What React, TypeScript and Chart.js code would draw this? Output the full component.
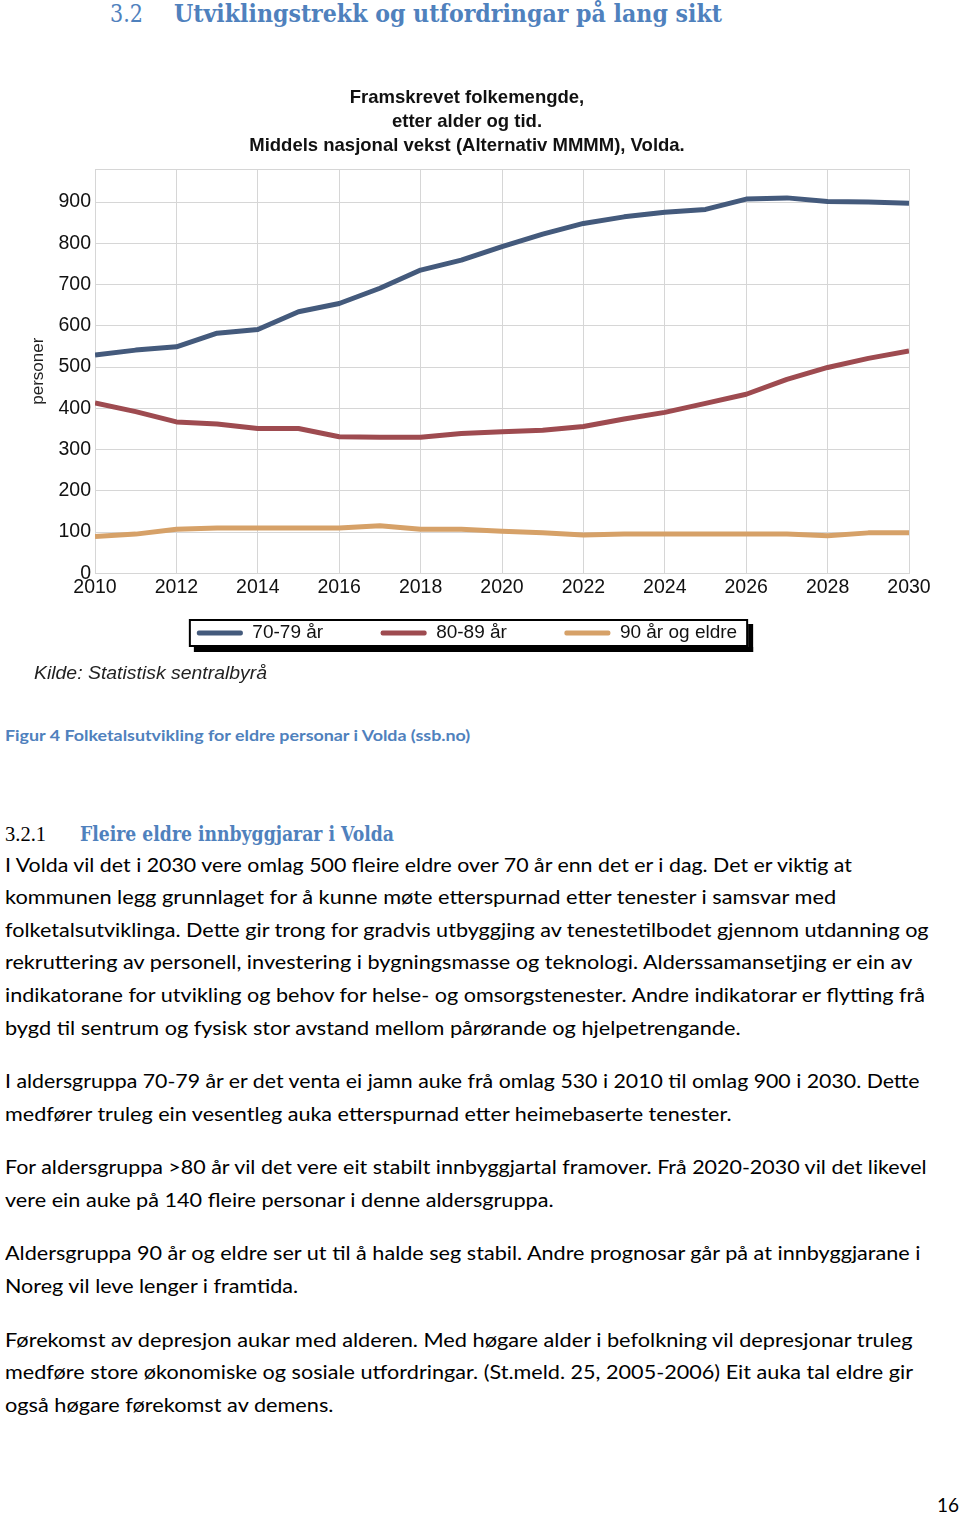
import React, { useEffect, useRef } from "react";
import { Chart, registerables } from "chart.js";

Chart.register(...registerables);

// ---------- chart data ----------
const years = [2010, 2011, 2012, 2013, 2014, 2015, 2016, 2017, 2018, 2019, 2020, 2021, 2022, 2023, 2024, 2025, 2026, 2027, 2028, 2029, 2030];
const series7079 = [529, 541, 549, 582, 591, 634, 654, 691, 735, 759, 792, 822, 848, 864, 875, 882, 907, 910, 901, 900, 897];
const series8089 = [413, 392, 367, 362, 351, 351, 331, 330, 330, 339, 343, 347, 356, 374, 390, 412, 434, 470, 499, 521, 539];
const series90 = [89, 95, 107, 110, 110, 110, 110, 115, 107, 107, 102, 98, 93, 95, 95, 95, 95, 95, 91, 98, 98];
const seriesLabels = ["70-79 år", "80-89 år", "90 år og eldre"];
const seriesColors = ["#445a7c", "#9e4b50", "#d6a168"];
const xTicks = [2010, 2012, 2014, 2016, 2018, 2020, 2022, 2024, 2026, 2028, 2030];
const yTicks = [0, 100, 200, 300, 400, 500, 600, 700, 800, 900];
const yMax = 980;
const chartTitle = ["Framskrevet folkemengde,", "etter alder og tid.", "Middels nasjonal vekst (Alternativ MMMM), Volda."];
const yAxisTitle = "personer";
const sourceText = "Kilde: Statistisk sentralbyrå";

// ---------- document text ----------
const headingNumber = "3.2";
const headingText = "Utviklingstrekk og utfordringar på lang sikt";
const captionText = "Figur 4 Folketalsutvikling for eldre personar i Volda (ssb.no)";
const subNumber = "3.2.1";
const subText = "Fleire eldre innbyggjarar i Volda";
const bodyLines = [
  "I Volda vil det i 2030 vere omlag 500 fleire eldre over 70 år enn det er i dag. Det er viktig at",
  "kommunen legg grunnlaget for å kunne møte etterspurnad etter tenester i samsvar med",
  "folketalsutviklinga. Dette gir trong for gradvis utbyggjing av tenestetilbodet gjennom utdanning og",
  "rekruttering av personell, investering i bygningsmasse og teknologi. Alderssamansetjing er ein av",
  "indikatorane for utvikling og behov for helse- og omsorgstenester. Andre indikatorar er flytting frå",
  "bygd til sentrum og fysisk stor avstand mellom pårørande og hjelpetrengande.",
  "I aldersgruppa 70-79 år er det venta ei jamn auke frå omlag 530 i 2010 til omlag 900 i 2030. Dette",
  "medfører truleg ein vesentleg auka etterspurnad etter heimebaserte tenester.",
  "For aldersgruppa >80 år vil det vere eit stabilt innbyggjartal framover. Frå 2020-2030 vil det likevel",
  "vere ein auke på 140 fleire personar i denne aldersgruppa.",
  "Aldersgruppa 90 år og eldre ser ut til å halde seg stabil. Andre prognosar går på at innbyggjarane i",
  "Noreg vil leve lenger i framtida.",
  "Førekomst av depresjon aukar med alderen. Med høgare alder i befolkning vil depresjonar truleg",
  "medføre store økonomiske og sosiale utfordringar. (St.meld. 25, 2005-2006) Eit auka tal eldre gir",
  "også høgare førekomst av demens.",
];
const bodyLineY = [865, 897, 930, 962, 995, 1028, 1081, 1114, 1167, 1200, 1253, 1286, 1340, 1372, 1405];
const bodyLineW = [851, 833, 925, 909, 923, 736, 916, 728, 924, 549, 918, 294, 910, 908, 329];
const pageNumber = "16";

// ---------- styling ----------
const BLUE = "#4f81bd";
const SERIF = '"DejaVu Serif", serif';
const TIMES = '"Liberation Serif", serif';
const BODY = 'Lato, "Noto Sans", sans-serif';
const ARIAL = '"Liberation Sans", Arial, sans-serif';
const GRID = "#d6d6d6";

let measureCtx: CanvasRenderingContext2D | null = null;
function textWidth(text: string, font: string): number {
  if (!measureCtx) measureCtx = document.createElement("canvas").getContext("2d");
  if (!measureCtx) return 0;
  measureCtx.font = font;
  return measureCtx.measureText(text).width;
}

type FitProps = {
  text: string;
  x: number;
  y: number;
  w?: number;
  family: string;
  size: number;
  weight?: string;
  italic?: boolean;
  color?: string;
};

function fontString(family: string, size: number, weight = "normal", italic = false) {
  return `${italic ? "italic " : ""}${weight} ${size}px ${family}`;
}

function Fit({ text, x, y, w, family, size, weight = "normal", italic = false, color = "#000" }: FitProps) {
  let sx = 1;
  if (w !== undefined) {
    const natural = textWidth(text, fontString(family, size, weight, italic));
    sx = natural > 0 ? w / natural : 1;
  }
  const lh = Math.round(size * 1.6);
  return (
    <div
      style={{
        position: "absolute",
        left: x,
        top: y - lh / 2,
        height: lh,
        fontFamily: family,
        fontSize: size,
        fontWeight: weight as any,
        fontStyle: italic ? "italic" : "normal",
        lineHeight: `${lh}px`,
        color,
        whiteSpace: "pre",
        transform: `scaleX(${sx})`,
        transformOrigin: "0 50%",
      }}
    >
      {text}
    </div>
  );
}

const legendFrame = {
  id: "legendFrame",
  afterDraw(chart: any) {
    const boxes = chart.legend && chart.legend.legendHitBoxes;
    if (!boxes || !boxes.length) return;
    const first = boxes[0];
    const last = boxes[boxes.length - 1];
    const cy = first.top + first.height / 2;
    const left = first.left - 8;
    const right = last.left + last.width + 11;
    const top = cy - 14;
    const bottom = cy + 14;
    const ctx = chart.ctx;
    ctx.save();
    ctx.fillStyle = "#000";
    ctx.fillRect(right, top + 5, 5, bottom - top);
    ctx.fillRect(left + 5, bottom, right - left, 5);
    ctx.strokeStyle = "#000";
    ctx.lineWidth = 2;
    ctx.strokeRect(left + 1, top + 1, right - left - 2, bottom - top - 2);
    ctx.restore();
  },
};

function ChartBox() {
  const ref = useRef<HTMLCanvasElement>(null);
  useEffect(() => {
    if (!ref.current) return;
    const allSeries = [series7079, series8089, series90];
    const chart = new Chart(ref.current, {
      type: "line",
      data: {
        datasets: allSeries.map((s, i) => ({
          label: seriesLabels[i],
          data: years.map((x, j) => ({ x, y: s[j] })),
          borderColor: seriesColors[i],
          backgroundColor: seriesColors[i],
          borderWidth: 5,
          pointRadius: 0,
          tension: 0,
          borderJoinStyle: "round" as const,
          fill: false,
        })),
      },
      options: {
        responsive: false,
        animation: false,
        devicePixelRatio: 1,
        layout: { padding: { left: 0, right: 25, top: 0, bottom: 7.5 } },
        plugins: {
          title: {
            display: true,
            text: chartTitle,
            color: "#111",
            font: { family: ARIAL, size: 18.5, weight: "bold", lineHeight: "24px" as any },
            padding: { top: 26, bottom: 11 },
          },
          legend: {
            display: true,
            position: "bottom",
            labels: {
              boxWidth: 46,
              boxHeight: 5,
              padding: 10,
              color: "#111",
              font: { family: ARIAL, size: 19 },
              generateLabels: (c: any) =>
                c.data.datasets.map((ds: any, i: number) => ({
                  text: ds.label + (i < c.data.datasets.length - 1 ? "\u2002\u2002\u2002\u2002\u2002" : ""),
                  fillStyle: ds.borderColor,
                  strokeStyle: ds.borderColor,
                  lineWidth: 0,
                  borderRadius: 2,
                  fontColor: "#111",
                  hidden: false,
                  datasetIndex: i,
                })),
            },
          },
          tooltip: { enabled: false },
        },
        scales: {
          x: {
            type: "linear",
            min: years[0],
            max: years[years.length - 1],
            afterBuildTicks: (scale: any) => {
              scale.ticks = xTicks.map((v) => ({ value: v }));
            },
            afterFit: (scale: any) => {
              scale.height = 40.2;
            },
            ticks: {
              autoSkip: false,
              maxRotation: 0,
              padding: 3,
              color: "#111",
              font: { family: ARIAL, size: 19.5 },
              callback: (v: any) => String(v),
            },
            grid: { color: GRID, lineWidth: 1, drawTicks: false },
            border: { color: GRID },
          },
          y: {
            type: "linear",
            min: 0,
            max: yMax,
            afterBuildTicks: (scale: any) => {
              scale.ticks = [...yTicks, yMax].map((v) => ({ value: v }));
            },
            afterFit: (scale: any) => {
              scale.width = 70;
            },
            ticks: {
              autoSkip: false,
              padding: 4,
              color: "#111",
              font: { family: ARIAL, size: 19.5 },
              callback: (v: any) => (yTicks.includes(Number(v)) ? String(v) : ""),
            },
            title: {
              display: true,
              text: yAxisTitle,
              color: "#222",
              font: { family: ARIAL, size: 17 },
              padding: { top: 3, bottom: 0 },
            },
            grid: { color: GRID, lineWidth: 1, drawTicks: false },
            border: { color: GRID },
          },
        },
      } as any,
      plugins: [legendFrame],
    });
    return () => chart.destroy();
  }, []);
  return (
    <canvas
      ref={ref}
      width={909}
      height={600}
      style={{ position: "absolute", left: 25, top: 60, width: 909, height: 600 }}
    />
  );
}

export default function App() {
  const bodySize = 18.5;
  return (
    <div
      style={{
        position: "absolute",
        left: 0,
        top: 0,
        width: 960,
        height: 1515,
        background: "#fff",
        overflow: "hidden",
      }}
    >
      <Fit text={headingNumber} x={110} y={14} w={33} family={SERIF} size={24} color={BLUE} />
      <Fit text={headingText} x={174} y={14} w={548} family={SERIF} size={24} weight="bold" color={BLUE} />
      <ChartBox />
      <Fit text={sourceText} x={34} y={673} w={233} family={ARIAL} size={19} italic color="#222" />
      <Fit text={captionText} x={5} y={735} w={467} family={BODY} size={15.5} weight="bold" color={BLUE} />
      <Fit text={subNumber} x={5} y={834} w={41} family={TIMES} size={20} color="#000" />
      <Fit text={subText} x={80} y={834} w={314} family={SERIF} size={20} weight="bold" color={BLUE} />
      {bodyLines.map((t, i) => (
        <Fit key={i} text={t} x={5} y={bodyLineY[i]} w={bodyLineW[i]} family={BODY} size={bodySize} color="#000" />
      ))}
      <Fit text={pageNumber} x={937} y={1505} w={22} family={BODY} size={bodySize} color="#000" />
    </div>
  );
}
